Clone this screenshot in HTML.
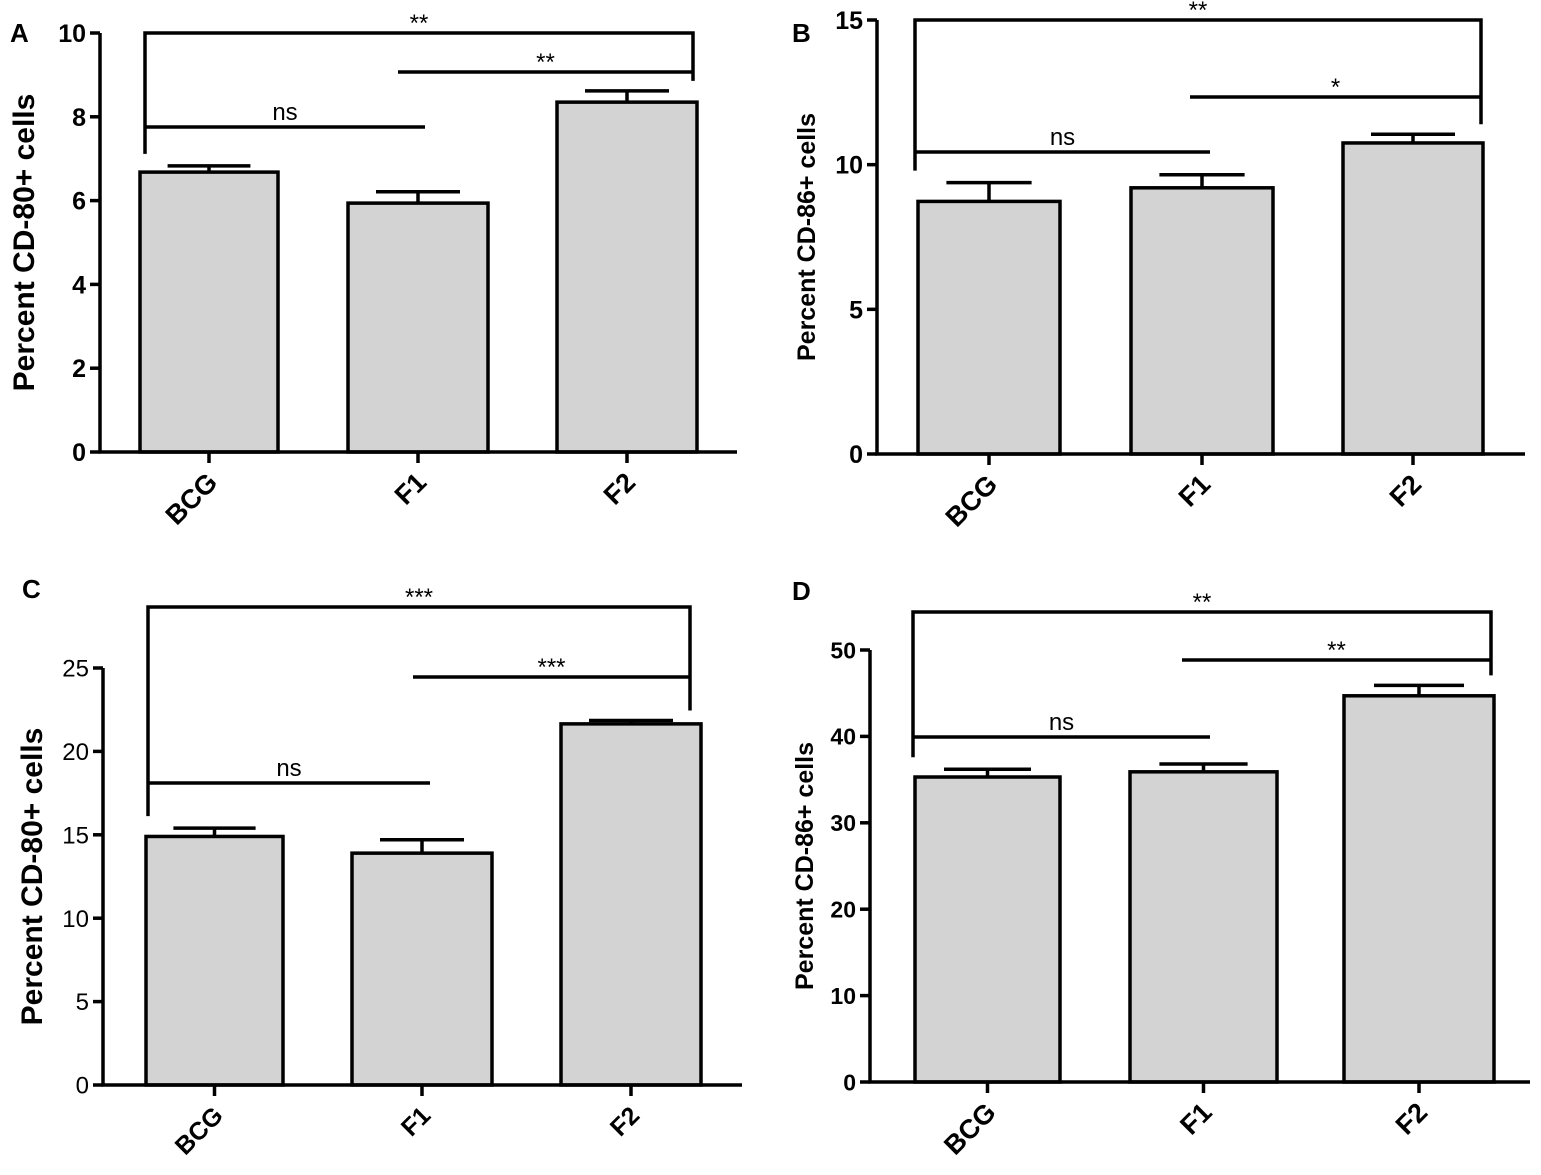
<!DOCTYPE html>
<html><head><meta charset="utf-8">
<style>
body{margin:0;background:#fff;}
svg{display:block;font-family:"Liberation Sans",Arial,sans-serif;}
</style></head>
<body>
<svg id="chart" width="1541" height="1175" viewBox="0 0 1541 1175" xmlns="http://www.w3.org/2000/svg"></svg>
<script>
const categories = ["BCG","F1","F2"];
const valuesA = [6.68, 5.94, 8.35];
const errorsA = [0.15, 0.27, 0.27];
const valuesB = [8.73, 9.2, 10.75];
const errorsB = [0.65, 0.45, 0.3];
const valuesC = [14.9, 13.9, 21.65];
const errorsC = [0.5, 0.8, 0.2];
const valuesD = [35.3, 35.9, 44.7];
const errorsD = [0.9, 0.9, 1.2];
const ticksA = [0,2,4,6,8,10];
const ticksB = [0,5,10,15];
const ticksC = [0,5,10,15,20,25];
const ticksD = [0,10,20,30,40,50];
const sigTop = ["**","**","***","**"];
const sigF1F2 = ["**","*","***","**"];

const svg = document.getElementById('chart');
const NS = 'http://www.w3.org/2000/svg';
function el(tag, attrs, parent){
  const e = document.createElementNS(NS, tag);
  for (const k in attrs) e.setAttribute(k, attrs[k]);
  (parent||svg).appendChild(e);
  return e;
}
const SW = 3.5;
const panels = [
  {id:'a', letter:'A', lx:10, ly:42, vals:valuesA, errs:errorsA, ticks:ticksA, max:10, ax:100, y0:452, yTop:33, xEnd:737, bars:[[140,278],[348,488],[557,697]],
   title:'Percent CD-80+ cells', tsize:30, tickSize:25, tickBold:true, tx:34,
   top:33, f1f2:72, ns:127, f1x:398, nsEnd:425, bl:145, br:693, catSize:27},
  {id:'b', letter:'B', lx:792, ly:42, vals:valuesB, errs:errorsB, ticks:ticksB, max:15, ax:877, y0:454, yTop:20, xEnd:1525, bars:[[918,1060],[1131,1273],[1343,1483]],
   title:'Percent CD-86+ cells', tsize:25, tickSize:25, tickBold:true, tx:815,
   top:20, f1f2:97, ns:152, f1x:1190, nsEnd:1210, bl:915, br:1481, catSize:27},
  {id:'c', letter:'C', lx:22, ly:598, vals:valuesC, errs:errorsC, ticks:ticksC, max:25, ax:103, y0:1085, yTop:668, xEnd:742, bars:[[146,283],[352,492],[561,701]],
   title:'Percent CD-80+ cells', tsize:30, tickSize:24, tickBold:false, tx:42,
   top:607, f1f2:677, ns:783, f1x:413, nsEnd:430, bl:148, br:690, catSize:25},
  {id:'d', letter:'D', lx:792, ly:600, vals:valuesD, errs:errorsD, ticks:ticksD, max:50, ax:870, y0:1082, yTop:650, xEnd:1530, bars:[[915,1060],[1130,1277],[1344,1494]],
   title:'Percent CD-86+ cells', tsize:25, tickSize:23, tickBold:true, tx:813,
   top:612, f1f2:660, ns:737, f1x:1182, nsEnd:1210, bl:913, br:1491, catSize:27}
];

panels.forEach((p, pi) => {
  const g = el('g', {});
  
  
  const y = v => p.y0 - (v / p.max) * (p.y0 - p.yTop);
  const lt = el('text', {x:p.lx, y:p.ly, 'font-size':26, 'font-weight':'bold'}, g);
  
  
  lt.textContent = p.letter;
  p.vals.forEach((v, i) => {
    const [x1, x2] = p.bars[i];
    const cx = (x1 + x2) / 2;
    const r = el('rect', {x:x1, y:y(v), width:x2-x1, height:p.y0-y(v), fill:'#d3d3d3', stroke:'#000', 'stroke-width':SW}, g);
    
    
    const ey = y(v + p.errs[i]);
    const e = el('path', {d:`M${cx} ${y(v)}V${ey}M${cx-(x2-x1)*0.3} ${ey}H${cx+(x2-x1)*0.3}`, stroke:'#000', 'stroke-width':SW, fill:'none'}, g);
    
    
    el('line', {x1:cx, x2:cx, y1:p.y0, y2:p.y0+11, stroke:'#000', 'stroke-width':SW}, g);
    const lbl = el('text', {x:0, y:0, 'font-size':p.catSize, 'font-weight':'bold', 'text-anchor':'end', transform:`translate(${cx+10},${p.y0+32}) rotate(-45)`}, g);
    
    
    lbl.textContent = categories[i];
  });
  const axes = el('path', {d:`M${p.ax} ${p.yTop}V${p.y0}H${p.xEnd}`, stroke:'#000', 'stroke-width':SW, fill:'none'}, g);
  
  
  p.ticks.forEach(t => {
    el('line', {x1:p.ax-10, x2:p.ax, y1:y(t), y2:y(t), stroke:'#000', 'stroke-width':SW}, g);
    const tt = el('text', {x:p.ax-14, y:y(t)+p.tickSize*0.36, 'font-size':p.tickSize, 'font-weight':p.tickBold?'bold':'normal', 'text-anchor':'end'}, g);
    
    
    tt.textContent = t;
  });
  const yt = el('text', {x:0, y:0, 'font-size':p.tsize, 'font-weight':'bold', 'text-anchor':'middle', transform:`translate(${p.tx},${(p.y0+p.yTop)/2}) rotate(-90)`}, g);
  
  
  yt.textContent = p.title;
  const leftDrop = y(p.vals[0] + p.errs[0]) - 12;
  const rightDrop = y(p.vals[2] + p.errs[2]) - 10;
  const b1 = el('path', {d:`M${p.bl} ${leftDrop}V${p.top}H${p.br}V${rightDrop}`, stroke:'#000', 'stroke-width':SW, fill:'none'}, g);
  
  
  const s1 = el('text', {x:(p.bl+p.br)/2, y:p.top-2, 'font-size':24, 'text-anchor':'middle'}, g);
  
  
  s1.textContent = sigTop[pi];
  const b2 = el('path', {d:`M${p.f1x} ${p.f1f2}H${p.br}`, stroke:'#000', 'stroke-width':SW, fill:'none'}, g);
  
  
  const s2 = el('text', {x:(p.f1x+p.br)/2, y:p.f1f2-2, 'font-size':24, 'text-anchor':'middle'}, g);
  
  
  s2.textContent = sigF1F2[pi];
  const b3 = el('path', {d:`M${p.bl} ${p.ns}H${p.nsEnd}`, stroke:'#000', 'stroke-width':SW, fill:'none'}, g);
  
  
  const s3 = el('text', {x:(p.bl+p.nsEnd)/2, y:p.ns-7, 'font-size':24, 'text-anchor':'middle'}, g);
  
  
  s3.textContent = 'ns';
});
</script>
</body></html>
